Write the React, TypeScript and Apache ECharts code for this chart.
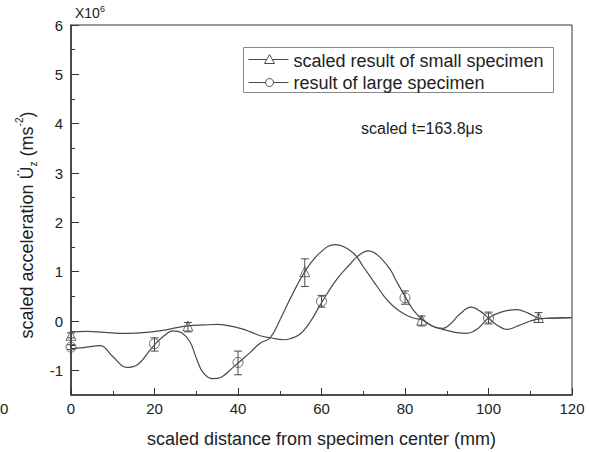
import React, { useEffect, useRef } from "react";
import * as echarts from "echarts";

// ---- axis ticks ----
const xTicks = [0, 20, 40, 60, 80, 100, 120];
const yTicks = [-1, 0, 1, 2, 3, 4, 5, 6];
const yMinorTicks = [-0.5, 0.5, 1.5, 2.5, 3.5, 4.5, 5.5];

// ---- curve 1 (deep dip, peak near 63) ----
const curve1X = [0, 3, 7, 10, 13.3, 16, 19.5, 22, 24.5, 26.5, 28.5, 30, 31.6, 34, 36, 38.8, 41, 43, 45.3, 47.7, 50.1, 53.2, 56.4, 59.6, 63.2, 67.6, 70, 72.5, 75, 77.2, 80, 82, 84.3, 86.5, 89, 91, 93, 95.8, 98, 100, 102, 104.5, 107, 110, 112.5, 116, 120];
const curve1Y = [-0.56, -0.54, -0.5, -0.72, -0.94, -0.88, -0.53, -0.32, -0.2, -0.24, -0.42, -0.75, -1.04, -1.17, -1.14, -0.94, -0.78, -0.63, -0.45, -0.34, 0.03, 0.57, 1.05, 1.38, 1.55, 1.38, 1.1, 0.8, 0.5, 0.3, 0.13, 0.06, 0.02, -0.1, -0.15, -0.05, 0.13, 0.28, 0.2, 0.06, -0.08, -0.17, -0.1, 0.0, 0.05, 0.06, 0.07];

// ---- curve 2 (flat start, peak near 71) ----
const curve2X = [0, 4, 8, 13, 18, 22, 25, 28, 32, 35, 38, 41, 43, 45.3, 47.7, 50.9, 52.5, 54.8, 57.2, 60, 63.6, 66.8, 68.5, 71.2, 73.5, 76.4, 78, 80, 82, 84.3, 86.5, 89, 92, 94.8, 97.5, 100, 103, 106.7, 109.5, 112.5, 116, 120];
const curve2Y = [-0.22, -0.21, -0.23, -0.25, -0.23, -0.19, -0.14, -0.1, -0.08, -0.07, -0.1, -0.16, -0.22, -0.3, -0.34, -0.38, -0.36, -0.27, -0.03, 0.37, 0.84, 1.15, 1.3, 1.42, 1.33, 1.05, 0.8, 0.5, 0.22, 0.02, -0.1, -0.17, -0.23, -0.25, -0.15, 0.06, 0.18, 0.23, 0.16, 0.05, 0.06, 0.07];

// ---- scaled result of small specimen (triangles) ----
const smallX = [0, 28, 56, 84, 112];
const smallY = [-0.29, -0.1, 1.0, 0.02, 0.07];
const smallLow = [-0.34, -0.22, 0.7, -0.1, -0.03];
const smallHigh = [-0.24, -0.03, 1.26, 0.1, 0.17];

// ---- result of large specimen (circles) ----
const largeX = [0, 20, 40, 60, 80, 100];
const largeY = [-0.53, -0.46, -0.84, 0.4, 0.47, 0.06];
const largeLow = [-0.58, -0.61, -1.09, 0.28, 0.34, -0.06];
const largeHigh = [-0.48, -0.34, -0.61, 0.52, 0.61, 0.18];

const LINE = "#4a4a4a";
const TEXT = "#222";
const FONT = "Liberation Sans, Arial, sans-serif";

function errorBarRender(params: any, api: any) {
  const x = api.value(0);
  const lo = api.value(1);
  const hi = api.value(2);
  const p1 = api.coord([x, hi]);
  const p2 = api.coord([x, lo]);
  const hw = 4;
  const style = { stroke: LINE, lineWidth: 1 };
  return {
    type: "group",
    children: [
      { type: "line", shape: { x1: p1[0], y1: p1[1], x2: p2[0], y2: p2[1] }, style },
      { type: "line", shape: { x1: p1[0] - hw, y1: p1[1], x2: p1[0] + hw, y2: p1[1] }, style },
      { type: "line", shape: { x1: p2[0] - hw, y1: p2[1], x2: p2[0] + hw, y2: p2[1] }, style },
    ],
  };
}

export default function App() {
  const ref = useRef<HTMLDivElement>(null);
  useEffect(() => {
    if (!ref.current) return;
    const chart = echarts.init(ref.current, undefined, { renderer: "svg" });
    const zip = (xs: number[], ys: number[]) => xs.map((x, i) => [x, ys[i]]);
    const zip3 = (xs: number[], a: number[], b: number[]) => xs.map((x, i) => [x, a[i], b[i]]);

    const option: any = {
      animation: false,
      backgroundColor: "#fff",
      textStyle: { fontFamily: FONT, color: TEXT },
      grid: {
        left: 71,
        right: 17,
        top: 25,
        bottom: 57,
        show: true,
        borderColor: "#333",
        borderWidth: 1,
        outerBoundsMode: "none",
        containLabel: false,
      },
      xAxis: {
        type: "value",
        min: xTicks[0],
        max: xTicks[xTicks.length - 1],
        interval: 20,
        axisLine: { show: true, onZero: false, lineStyle: { color: "#333", width: 1.5 } },
        axisTick: { show: true, inside: true, length: 7, lineStyle: { color: "#333" } },
        minorTick: { show: true, splitNumber: 2, length: 4, lineStyle: { color: "#333" } },
        splitLine: { show: false },
        axisLabel: { fontSize: 15, color: TEXT, margin: 6, fontFamily: FONT },
        name: "scaled distance from specimen center (mm)",
        nameLocation: "middle",
        nameGap: 35,
        nameTextStyle: { fontSize: 18, color: TEXT, fontFamily: FONT },
      },
      yAxis: [
        {
          type: "value",
          min: -1.5,
          max: 6,
          axisLine: { show: true, onZero: false, lineStyle: { color: "#333", width: 1.5 } },
          axisTick: { show: true, inside: true, length: 8, customValues: yTicks, lineStyle: { color: "#333" } },
          axisLabel: { customValues: yTicks, fontSize: 15, color: TEXT, margin: 8, fontFamily: FONT },
          splitLine: { show: false },
          name: "{a|scaled acceleration Ü}{sub|z}{a| (ms}{sup|-2}{a|)}",
          nameLocation: "middle",
          nameGap: 25,
          nameTextStyle: {
            color: TEXT,
            fontFamily: FONT,
            padding: [0, 30, 0, 0],
            rich: {
              a: { fontSize: 18, lineHeight: 24, color: TEXT, fontFamily: FONT },
              sub: { fontSize: 10, lineHeight: 10, verticalAlign: "bottom", color: TEXT, fontFamily: FONT },
              sup: { fontSize: 10, lineHeight: 10, verticalAlign: "top", color: TEXT, fontFamily: FONT },
            },
          },
        },
        {
          type: "value",
          min: -1.5,
          max: 6,
          position: "left",
          axisLine: { show: false },
          axisTick: { show: true, inside: true, length: 4, customValues: yMinorTicks, lineStyle: { color: "#333" } },
          axisLabel: { show: false },
          splitLine: { show: false },
        },
      ],
      series: [
        {
          type: "line",
          data: zip(curve1X, curve1Y),
          smooth: 0.4,
          showSymbol: false,
          lineStyle: { color: LINE, width: 1.2 },
          z: 2,
        },
        {
          type: "line",
          data: zip(curve2X, curve2Y),
          smooth: 0.4,
          showSymbol: false,
          lineStyle: { color: LINE, width: 1.2 },
          z: 2,
        },
        {
          type: "custom",
          renderItem: errorBarRender,
          encode: { x: 0, y: [1, 2] },
          data: zip3(smallX, smallLow, smallHigh),
          z: 3,
        },
        {
          type: "custom",
          renderItem: errorBarRender,
          encode: { x: 0, y: [1, 2] },
          data: zip3(largeX, largeLow, largeHigh),
          z: 3,
        },
        {
          type: "scatter",
          symbol: "triangle",
          symbolSize: 10,
          data: zip(smallX, smallY),
          itemStyle: { color: "rgba(0,0,0,0)", borderColor: LINE, borderWidth: 1 },
          z: 4,
        },
        {
          type: "scatter",
          symbol: "circle",
          symbolSize: 10,
          data: zip(largeX, largeY),
          itemStyle: { color: "rgba(0,0,0,0)", borderColor: LINE, borderWidth: 1 },
          z: 4,
        },
      ],
      graphic: [
        {
          type: "text",
          left: 75,
          top: 4,
          style: {
            text: "{a|X10}{sup|6}",
            rich: {
              a: { fontSize: 14, lineHeight: 18, fill: TEXT, fontFamily: FONT },
              sup: { fontSize: 9, lineHeight: 9, verticalAlign: "top", fill: TEXT, fontFamily: FONT },
            },
          },
        },
        {
          type: "text",
          left: 0,
          top: 401,
          style: { text: "0", fontSize: 15, fill: TEXT, fontFamily: FONT },
        },
        {
          type: "group",
          left: 243,
          top: 47,
          children: [
            { type: "rect", shape: { x: 0, y: 0, width: 310, height: 45 }, style: { fill: "#fff", stroke: "#888", lineWidth: 1 } },
            { type: "line", shape: { x1: 5, y1: 12, x2: 45, y2: 12 }, style: { stroke: LINE, lineWidth: 1 } },
            { type: "polygon", shape: { points: [[26, 7], [21, 16], [31, 16]] }, style: { fill: "#fff", stroke: LINE, lineWidth: 1 } },
            { type: "text", x: 50, y: 13, style: { text: "scaled result of small specimen", fontSize: 18, fill: TEXT, fontFamily: FONT, verticalAlign: "middle" } },
            { type: "line", shape: { x1: 5, y1: 35, x2: 45, y2: 35 }, style: { stroke: LINE, lineWidth: 1 } },
            { type: "circle", shape: { cx: 26, cy: 35, r: 4 }, style: { fill: "#fff", stroke: LINE, lineWidth: 1 } },
            { type: "text", x: 50, y: 35, style: { text: "result of large specimen", fontSize: 18, fill: TEXT, fontFamily: FONT, verticalAlign: "middle" } },
          ],
        },
        {
          type: "text",
          x: 361,
          y: 128,
          style: { text: "scaled t=163.8μs", fontSize: 16, fill: TEXT, fontFamily: FONT, verticalAlign: "middle" },
        },
      ],
    };
    chart.setOption(option);
    return () => chart.dispose();
  }, []);
  return (
    <div
      ref={ref}
      style={{ position: "fixed", left: 0, top: 0, width: 589, height: 452, background: "#fff" }}
    />
  );
}
